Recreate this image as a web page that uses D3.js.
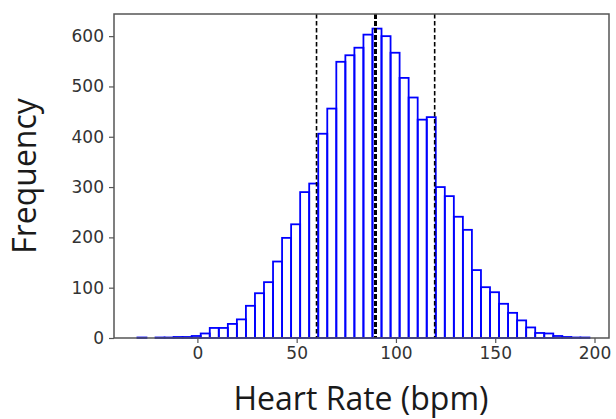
<!DOCTYPE html>
<html lang="en">
<head>
<meta charset="utf-8">
<title>Heart Rate Histogram</title>
<script src="https://d3js.org/d3.v7.min.js"></script>
<style>
  body { margin: 0; background: #fff; }
  .tick text { font-family: "DejaVu Sans", sans-serif; font-size: 17px; fill: #333; }
  .axis-label { font-family: "Open Sans", sans-serif; font-size: 32px; fill: #1a1a1a; }
</style>
</head>
<body>
<div id="vis"></div>
<script>
// histogram bins (50 equal bins)
const binStart = -30.2;
const binWidth = 4.553;
const counts = [1, 0, 1, 1, 2, 2, 4, 9, 20, 20,
                28, 37, 64, 89, 111, 152, 199, 226, 290, 307,
                406, 456, 549, 562, 577, 603, 615, 600, 567, 517,
                478, 434, 439, 300, 282, 241, 215, 135, 101, 91,
                68, 50, 35, 21, 10, 9, 4, 2, 1, 1];
const xTicks = [0, 50, 100, 150, 200];
const yTicks = [0, 100, 200, 300, 400, 500, 600];
const refLines = [60, 89.7, 119.5]; // mean - sd, mean, mean + sd

const width = 616, height = 419;
const plotLeft = 114, plotRight = 609, plotTop = 14, plotBottom = 338;

const bins = counts.map((c, i) => ({
  x0: binStart + i * binWidth,
  x1: binStart + (i + 1) * binWidth,
  n: c
}));

const x = d3.scaleLinear().domain([-42, 207.3]).range([plotLeft, plotRight]);
const y = d3.scaleLinear().domain([0, 644]).range([plotBottom, plotTop]);

const svg = d3.select("#vis").append("svg")
  .attr("width", width)
  .attr("height", height);

svg.selectAll(".bar")
  .data(bins)
  .enter()
  .append("rect")
  .attr("class", "bar")
  .attr("x", d => x(d.x0))
  .attr("y", d => y(d.n))
  .attr("width", d => x(d.x1) - x(d.x0))
  .attr("height", d => y(0) - y(d.n))
  .attr("fill", "none")
  .attr("stroke", "#0000ff")
  .attr("stroke-width", 1.8);

svg.selectAll(".ref")
  .data(refLines)
  .enter()
  .append("line")
  .attr("class", "ref")
  .attr("x1", d => x(d)).attr("x2", d => x(d))
  .attr("y1", y(644)).attr("y2", y(0))
  .attr("stroke", "#000")
  .attr("stroke-width", (d, i) => i === 1 ? 3 : 1.6)
  .attr("stroke-dasharray", (d, i) => i === 1 ? "5,2" : "4.5,2.5");

// frame
svg.append("rect")
  .attr("x", plotLeft).attr("y", plotTop)
  .attr("width", plotRight - plotLeft).attr("height", plotBottom - plotTop)
  .attr("fill", "none")
  .attr("stroke", "#555")
  .attr("stroke-width", 1.5);

const xAxis = svg.append("g")
  .attr("transform", "translate(0," + plotBottom + ")")
  .call(d3.axisBottom(x).tickValues(xTicks).tickSize(5).tickPadding(4));
const yAxis = svg.append("g")
  .attr("transform", "translate(" + plotLeft + ",0)")
  .call(d3.axisLeft(y).tickValues(yTicks).tickSize(5).tickPadding(5));
[xAxis, yAxis].forEach(g => {
  g.select(".domain").remove();
  g.selectAll(".tick line").attr("stroke", "#555").attr("stroke-width", 1.2);
});

svg.append("text")
  .attr("class", "axis-label")
  .attr("x", 361).attr("y", 410)
  .attr("text-anchor", "middle")
  .text("Heart Rate (bpm)");

svg.append("text")
  .attr("class", "axis-label")
  .attr("transform", "translate(36,176) rotate(-90)")
  .attr("text-anchor", "middle")
  .text("Frequency");
</script>
</body>
</html>
